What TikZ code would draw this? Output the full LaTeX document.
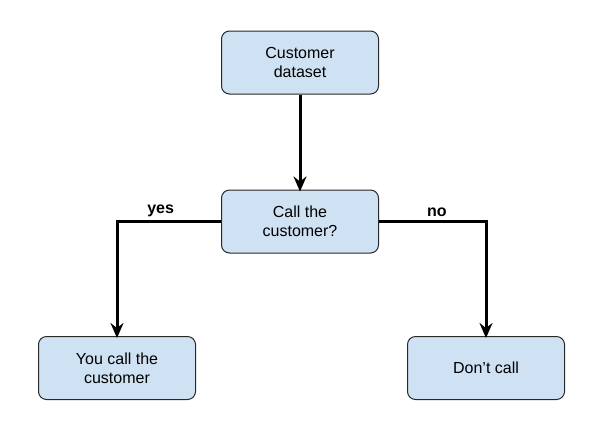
\documentclass[tikz,border=0pt]{standalone}
\usepackage{fontspec}
\setmainfont{Liberation Sans}
\usetikzlibrary{arrows.meta}
\definecolor{boxfill}{RGB}{207,226,243}
\definecolor{boxline}{RGB}{40,40,40}
\tikzset{
  box/.style={draw=boxline, fill=boxfill, line width=1pt, rounded corners=8pt,
    minimum width=157pt, minimum height=63pt, align=center,
    font=\fontsize{16}{19}\selectfont},
  link/.style={line width=3pt, -{Stealth[length=15pt,width=13pt,inset=5pt]}},
  tag/.style={font=\fontsize{16}{19}\selectfont\bfseries}
}
\begin{document}
\begin{tikzpicture}[x=1pt,y=-1pt]
  \useasboundingbox (0,0) rectangle (612,440);
  \node[box] (data) at (300,62.5) {Customer\\dataset};
  \node[box] (ask) at (300,221.5) {Call the\\customer?};
  \node[box] (yes) at (117,368) {You call the\\customer};
  \node[box] (no) at (486,368) {Don’t call};
  \draw[link] (data) -- ([yshift=-2pt]ask.north);
  \draw[link] (ask.west) -| ([yshift=-2pt]yes.north) node[tag, pos=0.29, above] {yes};
  \draw[link] (ask.east) -| ([yshift=-2pt]no.north) node[tag, pos=0.27, above] {no};
\end{tikzpicture}
\end{document}
